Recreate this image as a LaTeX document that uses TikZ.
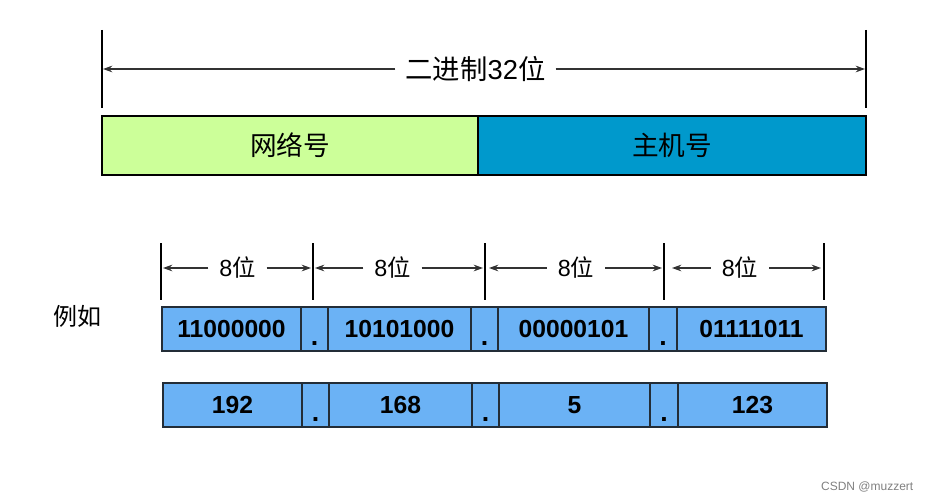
\documentclass[tikz,border=0pt]{standalone}
\usepackage{fontspec}
\setmainfont{Liberation Sans}
\newfontfamily\cjk{Noto Sans CJK SC}
\usetikzlibrary{arrows.meta,calc}
\definecolor{netgreen}{RGB}{204,255,153}
\definecolor{hostblue}{RGB}{0,153,204}
\definecolor{cellblue}{RGB}{107,178,245}
\definecolor{cellborder}{RGB}{35,45,55}
\definecolor{dimgray}{RGB}{50,50,50}
\tikzset{
  bar/.style={draw=black, line width=1pt, inner sep=0pt, minimum height=59*0.75pt, font=\fontsize{20}{22}\selectfont\cjk},
  cell/.style={draw=cellborder, fill=cellblue, line width=1pt, inner sep=0pt, minimum height=44*0.75pt, font=\fontsize{18.5}{20}\selectfont\bfseries},
  dottext/.style={inner sep=0pt, font=\fontsize{20}{20}\selectfont\bfseries},
  tick/.style={draw=black, line width=0.8pt},
  dimarrow/.style={draw=dimgray, line width=0.9pt, -{Stealth[length=7pt,width=5pt]}},
  toplabel/.style={inner sep=7.5pt, font=\fontsize{20.5}{22}\selectfont},
  seglabel/.style={inner sep=8pt, font=\fontsize{17.5}{19}\selectfont},
}
\begin{document}
\begin{tikzpicture}[x=0.75pt,y=-0.75pt]
\useasboundingbox (0,0) rectangle (934,502);
% top dimension
\coordinate (tl1) at (102,30); \coordinate (tl2) at (102,108);
\coordinate (tr1) at (866,30); \coordinate (tr2) at (866,108);
\coordinate (ta) at (103,69); \coordinate (tb) at (865,69);
\draw[tick] (tl1) -- (tl2);
\draw[tick] (tr1) -- (tr2);
\node[toplabel] (tt) at (475.5,69) {{\cjk 二进制}32{\cjk 位}};
\draw[dimarrow] (tt.west) -- (ta);
\draw[dimarrow] (tt.east) -- (tb);
% top bar
\node[bar, fill=netgreen, minimum width=376*0.75pt] (net) at (290,145.5) {网络号};
\node[bar, fill=hostblue, minimum width=388*0.75pt] (host) at (672,145.5) {主机号};
% lower ticks
\foreach \n/\x in {k0/161,k1/313,k2/485,k3/664,k4/824}{
  \coordinate (\n a) at (\x,243); \coordinate (\n b) at (\x,300);
  \draw[tick] (\n a) -- (\n b);
}
\coordinate (s1l) at (163,268); \coordinate (s1r) at (311,268);
\coordinate (s2l) at (315,268); \coordinate (s2r) at (483,268);
\coordinate (s3l) at (489,268); \coordinate (s3r) at (662,268);
\coordinate (s4l) at (672,268); \coordinate (s4r) at (821,268);
\node[seglabel] (l1) at (237.5,268) {8{\cjk 位}};
\node[seglabel] (l2) at (392.5,268) {8{\cjk 位}};
\node[seglabel] (l3) at (576,268) {8{\cjk 位}};
\node[seglabel] (l4) at (740,268) {8{\cjk 位}};
\foreach \i in {1,2,3,4}{
  \draw[dimarrow] (l\i.west) -- (s\i l);
  \draw[dimarrow] (l\i.east) -- (s\i r);
}
% example label
\node[font=\fontsize{18}{20}\selectfont\cjk] (eg) at (77,316) {例如};
% row 1
\node[cell, minimum width=139*0.75pt] (a1) at (231.5,329) {11000000};
\node[cell, minimum width=27*0.75pt] (ad1) at (314.5,329) {};
\node[cell, minimum width=143*0.75pt] (a2) at (399.5,329) {10101000};
\node[cell, minimum width=27*0.75pt] (ad2) at (484.5,329) {};
\node[cell, minimum width=151*0.75pt] (a3) at (573.5,329) {00000101};
\node[cell, minimum width=28*0.75pt] (ad3) at (663,329) {};
\node[cell, minimum width=149*0.75pt] (a4) at (751.5,329) {01111011};
% row 2
\node[cell, minimum width=139*0.75pt] (b1) at (232.5,405) {192};
\node[cell, minimum width=27*0.75pt] (bd1) at (315.5,405) {};
\node[cell, minimum width=143*0.75pt] (b2) at (400.5,405) {168};
\node[cell, minimum width=27*0.75pt] (bd2) at (485.5,405) {};
\node[cell, minimum width=151*0.75pt] (b3) at (574.5,405) {5};
\node[cell, minimum width=28*0.75pt] (bd3) at (664,405) {};
\node[cell, minimum width=149*0.75pt] (b4) at (752.5,405) {123};
\foreach \d in {ad1,ad2,ad3,bd1,bd2,bd3}{
  \node[dottext, anchor=base] (\d t) at ($(\d.south)+(0,-6)$) {.};
}
% watermark
\node[text=gray, font=\fontsize{9}{10}\selectfont, anchor=east] (wm) at (918,487) {CSDN @muzzert};
\end{tikzpicture}
\end{document}
